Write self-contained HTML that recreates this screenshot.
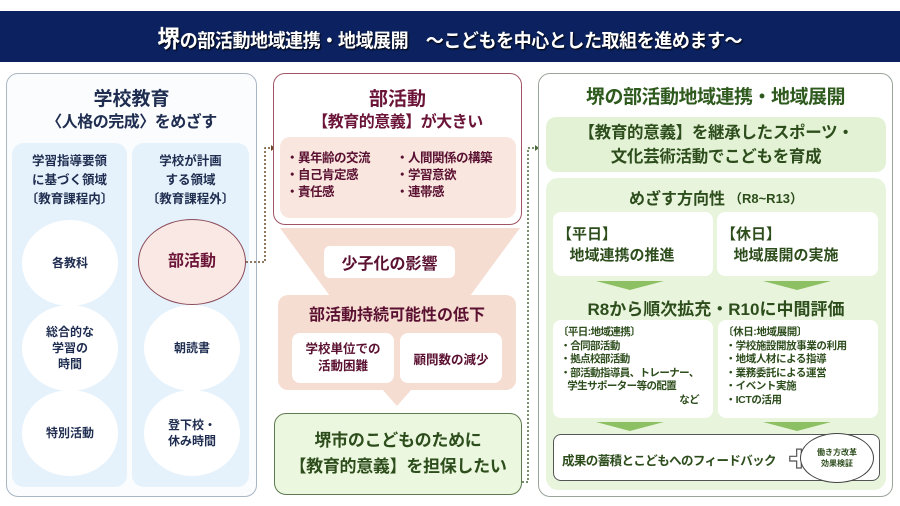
<!DOCTYPE html>
<html><head><meta charset="utf-8"><style>
*{margin:0;padding:0;box-sizing:border-box}
body{width:900px;height:506px;background:#fff;position:relative;overflow:hidden;font-family:"Liberation Sans","Noto Sans CJK JP",sans-serif;font-weight:bold}
.a{position:absolute}
.c{display:flex;align-items:center;justify-content:center;text-align:center}
.circ{position:absolute;border-radius:50%;background:#fff;display:flex;align-items:center;justify-content:center;text-align:center;color:#1f2d50;font-size:12px;line-height:16px}
.tri{position:absolute;width:0;height:0;border-left:34px solid transparent;border-right:34px solid transparent;border-top:9px solid #8cc063}
</style></head><body>
<div class="a c" style="left:0;top:11px;width:900px;height:51px;background:#0c2260;color:#fff;font-size:19px;text-shadow:1px 1px 2px #000">
<span style="display:inline-block;transform:scaleX(0.95);white-space:nowrap;letter-spacing:-0.5px"><span style="font-size:24px">堺</span>の部活動地域連携・地域展開　～こどもを中心とした取組を進めます～</span></div>

<!-- left panel -->
<div class="a" style="left:6px;top:73px;width:251px;height:424px;border:1.5px solid #a9b6c4;border-radius:12px;background:#fafcfe"></div>
<div class="a c" style="left:6px;top:84px;width:251px;height:26px;color:#1f2d50;font-size:19px">学校教育</div>
<div class="a c" style="left:6px;top:108px;width:251px;height:24px;color:#1f2d50;font-size:16px;letter-spacing:-0.5px">〈人格の完成〉をめざす</div>
<div class="a" style="left:12px;top:143px;width:115px;height:344px;background:#e6f2fb;border-radius:12px"></div>
<div class="a" style="left:132px;top:143px;width:117px;height:344px;background:#e6f2fb;border-radius:12px"></div>
<div class="a" style="left:12px;top:152px;width:115px;text-align:center;color:#1f2d50;font-size:12.5px;line-height:19px">学習指導要領<br>に基づく領域<br>〔教育課程内〕</div>
<div class="a" style="left:132px;top:152px;width:117px;text-align:center;color:#1f2d50;font-size:12.5px;line-height:19px">学校が計画<br>する領域<br>〔教育課程外〕</div>
<div class="circ" style="left:22px;top:220px;width:96px;height:86px">各教科</div>
<div class="circ" style="left:22px;top:305px;width:96px;height:86px">総合的な<br>学習の<br>時間</div>
<div class="circ" style="left:22px;top:390px;width:96px;height:86px">特別活動</div>
<div class="circ" style="left:138px;top:219px;width:108px;height:86px;background:#f9e8e3;border:1px solid #8a4a5a;color:#6b1438;font-size:16px">部活動</div>
<div class="circ" style="left:144px;top:305px;width:96px;height:86px">朝読書</div>
<div class="circ" style="left:144px;top:390px;width:96px;height:86px">登下校・<br>休み時間</div>

<svg class="a" style="left:0;top:0" width="900" height="506">
<path d="M246 262 H265 V148 H271" fill="none" stroke="#6b4a2a" stroke-width="1.5" stroke-dasharray="2,2"/>
<path d="M271 145 L275 148 L271 151Z" fill="#6b4a2a"/>
<path d="M522 482 H528 V148 H535" fill="none" stroke="#4a6a3a" stroke-width="1.5" stroke-dasharray="2,2"/>
<path d="M535 145 L539 148 L535 151Z" fill="#4a6a3a"/>
<path d="M280 228 H520 L470 296 H330Z" fill="#f6ddd2"/>
<path d="M382 389 H412 L397 406Z" fill="#f6ddd2"/>
</svg>

<!-- middle -->
<div class="a" style="left:273px;top:73px;width:249px;height:152px;border:1.5px solid #a05565;border-radius:12px;background:#fff"></div>
<div class="a c" style="left:273px;top:84px;width:249px;height:26px;color:#6b1438;font-size:19px">部活動</div>
<div class="a c" style="left:273px;top:108px;width:249px;height:24px;color:#6b1438;font-size:16px;letter-spacing:-0.5px">【教育的意義】が大きい</div>
<div class="a" style="left:280px;top:137px;width:236px;height:81px;background:#f8e6df;border-radius:10px"></div>
<div class="a" style="left:286px;top:150px;color:#5a1030;font-size:12.5px;line-height:17px;letter-spacing:-0.5px">・異年齢の交流<br>・自己肯定感<br>・責任感</div>
<div class="a" style="left:396px;top:150px;color:#5a1030;font-size:12.5px;line-height:17px;letter-spacing:-0.5px">・人間関係の構築<br>・学習意欲<br>・連帯感</div>
<div class="a c" style="left:324px;top:246px;width:131px;height:32px;background:#fff;border-radius:6px;color:#5a1030;font-size:16px">少子化の影響</div>
<div class="a" style="left:278px;top:295px;width:238px;height:95px;background:#f6ddd2;border-radius:10px"></div>
<div class="a c" style="left:278px;top:301px;width:238px;height:24px;color:#5a1030;font-size:16px">部活動持続可能性の低下</div>
<div class="a c" style="left:292px;top:333px;width:102px;height:50px;background:#fff;border-radius:8px;color:#5a1030;font-size:12.5px;line-height:17px">学校単位での<br>活動困難</div>
<div class="a c" style="left:400px;top:333px;width:102px;height:50px;background:#fff;border-radius:8px;color:#5a1030;font-size:12.5px">顧問数の減少</div>
<div class="a c" style="left:274px;top:413px;width:248px;height:82px;background:#ebf7de;border:1.5px solid #5f7a52;border-radius:12px;color:#2d4d1c;font-size:17px;line-height:26px;letter-spacing:-0.3px">堺市のこどものために<br>【教育的意義】を担保したい</div>

<!-- right -->
<div class="a" style="left:538px;top:73px;width:355px;height:424px;border:1.5px solid #9aa59a;border-radius:12px;background:#fff"></div>
<div class="a c" style="left:538px;top:82px;width:355px;height:26px;color:#2e5a1e;font-size:19px;letter-spacing:-0.5px">堺の部活動地域連携・地域展開</div>
<div class="a c" style="left:546px;top:117px;width:340px;height:55px;background:#e3f2d5;border-radius:10px;color:#2d4d1c;font-size:16.5px;line-height:24px;letter-spacing:-0.3px">【教育的意義】を継承したスポーツ・<br>文化芸術活動でこどもを育成</div>
<div class="a" style="left:546px;top:178px;width:340px;height:312px;background:#e8f5dc;border-radius:12px"></div>
<div class="a c" style="left:546px;top:185px;width:340px;height:24px;color:#2d4d1c;font-size:16px">めざす方向性<span style="font-size:13px;margin-left:4px">（R8~R13）</span></div>
<div class="a" style="left:553px;top:212px;width:160px;height:64px;background:#fff;border-radius:8px;color:#2d4d1c;font-size:15px;line-height:21px;padding:12px 0 0 4px">【平日】<br>&nbsp;&nbsp;&nbsp;地域連携の推進</div>
<div class="a" style="left:717px;top:212px;width:161px;height:64px;background:#fff;border-radius:8px;color:#2d4d1c;font-size:15px;line-height:21px;padding:12px 0 0 4px">【休日】<br>&nbsp;&nbsp;&nbsp;地域展開の実施</div>
<div class="tri" style="left:596px;top:281px"></div>
<div class="tri" style="left:763px;top:281px"></div>
<div class="a c" style="left:546px;top:295px;width:340px;height:24px;color:#2d4d1c;font-size:17px">R8から順次拡充・R10に中間評価</div>
<div class="a" style="left:553px;top:320px;width:160px;height:98px;background:#fff;border-radius:8px;color:#2d4d1c;font-size:10.5px;line-height:13.5px;padding:6px 0 0 5px;letter-spacing:-0.6px;white-space:nowrap">〔平日:地域連携〕<br>&nbsp;・合同部活動<br>&nbsp;・拠点校部活動<br>&nbsp;・部活動指導員、トレーナー、<br>&nbsp;&nbsp;&nbsp;&nbsp;学生サポーター等の配置<br><span style="display:block;text-align:right;padding-right:14px">など</span></div>
<div class="a" style="left:718px;top:320px;width:160px;height:98px;background:#fff;border-radius:8px;color:#2d4d1c;font-size:10.5px;line-height:13.5px;padding:6px 0 0 5px;letter-spacing:-0.4px;white-space:nowrap">〔休日:地域展開〕<br>&nbsp;・学校施設開放事業の利用<br>&nbsp;・地域人材による指導<br>&nbsp;・業務委託による運営<br>&nbsp;・イベント実施<br>&nbsp;・ICTの活用</div>
<div class="tri" style="left:596px;top:422px"></div>
<div class="tri" style="left:763px;top:422px"></div>
<div class="a" style="left:553px;top:434px;width:327px;height:47px;background:#fff;border:1.2px solid #555;border-radius:8px"></div>
<div class="a" style="left:562px;top:450px;color:#2d4d1c;font-size:12.5px;letter-spacing:-0.6px;white-space:nowrap">成果の蓄積とこどもへのフィードバック</div>
<div class="a c" style="left:789px;top:448px;width:20px;height:20px;color:#fff;font-size:22px;-webkit-text-stroke:1.2px #555">✚</div>
<div class="a c" style="left:800px;top:433px;width:74px;height:50px;border:1px solid #444;border-radius:50%;background:#fff;color:#2d4d1c;font-size:8px;line-height:11px">働き方改革<br>効果検証</div>
</body></html>
